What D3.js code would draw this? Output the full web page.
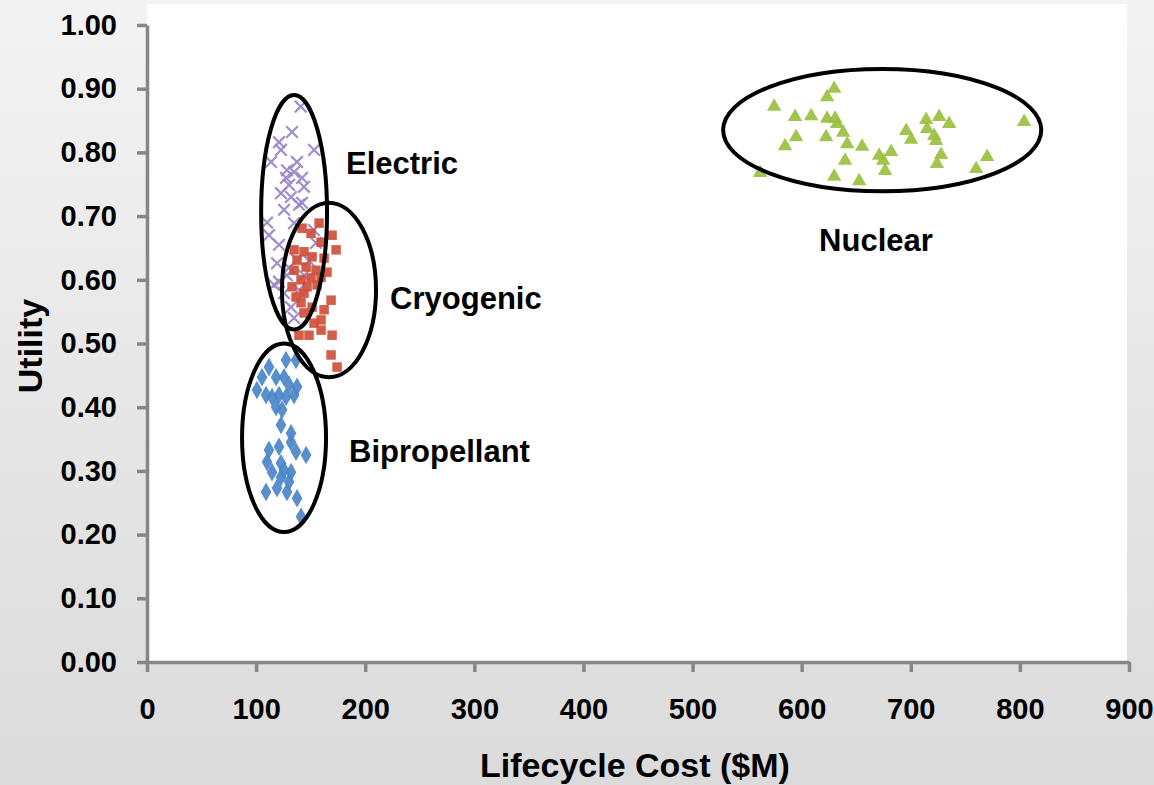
<!DOCTYPE html>
<html>
<head>
<meta charset="utf-8">
<script src="https://cdn.jsdelivr.net/npm/d3@7"></script>
<style>
  body { margin: 0; }
  #chart { width: 1154px; height: 785px; }
</style>
</head>
<body>
<div id="chart"></div>
<script>
// Lifecycle cost ($M) and utility for each propulsion family
const electricCost = [140.9, 132.9, 121.0, 122.8, 153.1, 113.7, 137.5, 128.3, 134.8, 127.4, 142.1, 130.2, 143.9, 122.8, 132.0, 139.3, 142.1, 134.8, 111.8, 121.0, 119.2, 121.0, 130.2, 137.5, 125.6, 132.0, 134.8, 154.9, 153.0, 125.6, 110.0, 148.5, 128.3, 116.4, 139.3, 143.9];
const electricUtility = [0.872, 0.832, 0.816, 0.804, 0.804, 0.785, 0.785, 0.772, 0.769, 0.760, 0.760, 0.749, 0.746, 0.736, 0.730, 0.718, 0.721, 0.689, 0.670, 0.655, 0.626, 0.597, 0.619, 0.631, 0.579, 0.557, 0.540, 0.658, 0.678, 0.710, 0.690, 0.630, 0.607, 0.592, 0.584, 0.607];

const cryoCost = [157.7, 142.1, 169.6, 150.3, 159.5, 134.8, 143.9, 173.3, 151.3, 137.5, 162.3, 145.8, 154.9, 134.8, 165.0, 141.2, 150.3, 159.5, 132.9, 146.7, 155.8, 136.6, 143.9, 168.7, 141.2, 151.3, 162.3, 143.9, 159.5, 153.1, 139.3, 148.5, 169.6, 159.5, 168.7, 174.2];
const cryoUtility = [0.689, 0.681, 0.670, 0.673, 0.659, 0.647, 0.644, 0.647, 0.636, 0.631, 0.634, 0.620, 0.615, 0.615, 0.612, 0.600, 0.603, 0.604, 0.589, 0.589, 0.592, 0.573, 0.579, 0.568, 0.564, 0.557, 0.553, 0.548, 0.537, 0.532, 0.513, 0.513, 0.513, 0.521, 0.482, 0.463];

const biproCost = [127.4, 136.6, 111.8, 105.4, 118.3, 125.6, 130.2, 137.5, 100.8, 109.1, 114.6, 121.0, 127.4, 134.8, 118.3, 123.8, 122.8, 132.0, 132.0, 111.8, 121.0, 136.6, 145.8, 110.0, 122.8, 125.6, 114.6, 132.0, 122.8, 130.2, 109.1, 119.2, 128.3, 137.5, 141.2];
const biproUtility = [0.474, 0.474, 0.463, 0.447, 0.447, 0.447, 0.435, 0.432, 0.427, 0.419, 0.416, 0.419, 0.416, 0.419, 0.400, 0.396, 0.372, 0.359, 0.345, 0.333, 0.338, 0.330, 0.325, 0.314, 0.312, 0.301, 0.298, 0.298, 0.290, 0.283, 0.267, 0.273, 0.267, 0.257, 0.228];

const nuclearCost = [629.8, 623.3, 574.8, 594.0, 608.7, 623.3, 630.7, 632.5, 638.0, 594.9, 622.4, 641.7, 584.8, 655.4, 671.0, 682.0, 674.7, 639.8, 629.8, 652.7, 676.5, 561.9, 695.8, 700.3, 714.1, 726.0, 735.2, 715.0, 721.4, 723.2, 727.8, 724.1, 759.9, 770.0, 803.9];
const nuclearUtility = [0.900, 0.887, 0.872, 0.856, 0.857, 0.853, 0.853, 0.845, 0.831, 0.824, 0.824, 0.813, 0.810, 0.809, 0.795, 0.801, 0.787, 0.787, 0.762, 0.755, 0.771, 0.768, 0.834, 0.820, 0.851, 0.856, 0.845, 0.837, 0.826, 0.818, 0.796, 0.782, 0.774, 0.793, 0.848];

// Circled groups: centre and half-widths in data units, label anchor
const groupNames = ['Electric', 'Cryogenic', 'Bipropellant', 'Nuclear'];
const groupCx = [134.8, 166.8, 125.6, 673.8];
const groupCy = [0.706, 0.584, 0.352, 0.835];
const groupRx = [30.2, 43.1, 38.5, 145.8];
const groupRy = [0.184, 0.137, 0.148, 0.096];
const labelX = [182.4, 222.8, 185.2, 616.0];
const labelY = [0.766, 0.554, 0.314, 0.645];

const xTicks = [0, 100, 200, 300, 400, 500, 600, 700, 800, 900];
const yTicks = [0, 0.1, 0.2, 0.3, 0.4, 0.5, 0.6, 0.7, 0.8, 0.9, 1.0];

// Size of the page
var svgWidth = 1154;
var svgHeight = 785;

var svg = d3.select('#chart')
    .append('svg')
    .attr('width', svgWidth)
    .attr('height', svgHeight)
    .style('font-family', 'Liberation Sans, Arial, sans-serif');

// Grey background fading downwards
var defs = svg.append('defs');
var grad = defs.append('linearGradient')
    .attr('id', 'bg')
    .attr('x1', 0).attr('y1', 0)
    .attr('x2', 0).attr('y2', 1);
grad.append('stop').attr('offset', '0%').attr('stop-color', '#f3f3f3');
grad.append('stop').attr('offset', '100%').attr('stop-color', '#dbdbdb');

svg.append('rect')
    .attr('width', svgWidth)
    .attr('height', svgHeight)
    .attr('fill', 'url(#bg)');

// Scales
var xScale = d3.scaleLinear()
    .domain([0, 900])
    .range([147, 1129]);

var yScale = d3.scaleLinear()
    .domain([0, 1])
    .range([662, 25]);

// White plot area
svg.append('rect')
    .attr('x', xScale(0))
    .attr('y', 4)
    .attr('width', xScale(900) - xScale(0) - 2)
    .attr('height', yScale(0) - 4)
    .attr('fill', '#ffffff');

// Axes
var xAxis = d3.axisBottom(xScale)
    .tickValues(xTicks)
    .tickFormat(d3.format('d'))
    .tickSize(10)
    .tickSizeOuter(0)
    .tickPadding(26);

var yAxis = d3.axisLeft(yScale)
    .tickValues(yTicks)
    .tickFormat(d3.format('.2f'))
    .tickSize(10)
    .tickSizeOuter(0)
    .tickPadding(20);

var gx = svg.append('g')
    .attr('transform', 'translate(0,' + yScale(0) + ')')
    .call(xAxis);

var gy = svg.append('g')
    .attr('transform', 'translate(' + xScale(0) + ',0)')
    .call(yAxis);

[gx, gy].forEach(g => {
    g.select('.domain').attr('stroke', '#868686').attr('stroke-width', 3.5);
    g.selectAll('.tick line').attr('stroke', '#868686').attr('stroke-width', 3.5);
    g.selectAll('.tick text')
        .attr('fill', '#000')
        .style('font-size', '29px')
        .style('font-weight', 'bold')
        .style('font-family', 'Liberation Sans, Arial, sans-serif');
});

// Markers
function drawSeries(costs, utils, symbolType, size, color, stroked) {
    var sym = d3.symbol().type(symbolType).size(size);
    svg.append('g')
        .selectAll('path')
        .data(costs.map((c, i) => ({ cost: c, util: utils[i] })))
        .join('path')
        .attr('d', sym)
        .attr('transform', d => 'translate(' + xScale(d.cost) + ',' + yScale(d.util) + ')')
        .attr('fill', stroked ? 'none' : color)
        .attr('stroke', stroked ? color : 'none')
        .attr('stroke-width', stroked ? 2.2 : 0)
        .attr('opacity', 0.92);
}

drawSeries(electricCost, electricUtility, d3.symbolX, 90, '#9a84c8', true);
drawSeries(biproCost, biproUtility, d3.symbolDiamond, 100, '#4a85c8', false);
drawSeries(cryoCost, cryoUtility, d3.symbolSquare, 90, '#cf4f3a', false);
drawSeries(nuclearCost, nuclearUtility, d3.symbolTriangle, 90, '#9ac040', false);

// Ellipses around each family
svg.append('g')
    .selectAll('ellipse')
    .data(groupNames)
    .join('ellipse')
    .attr('cx', (d, i) => xScale(groupCx[i]))
    .attr('cy', (d, i) => yScale(groupCy[i]))
    .attr('rx', (d, i) => xScale(groupRx[i]) - xScale(0))
    .attr('ry', (d, i) => yScale(0) - yScale(groupRy[i]))
    .attr('fill', 'none')
    .attr('stroke', '#000')
    .attr('stroke-width', 4);

// Family labels
svg.append('g')
    .selectAll('text')
    .data(groupNames)
    .join('text')
    .attr('x', (d, i) => xScale(labelX[i]))
    .attr('y', (d, i) => yScale(labelY[i]))
    .style('font-size', '31px')
    .style('font-weight', 'bold')
    .text(d => d);

// Axis titles
svg.append('text')
    .attr('x', 635)
    .attr('y', 777)
    .style('text-anchor', 'middle')
    .style('font-size', '34px')
    .style('font-weight', 'bold')
    .text('Lifecycle Cost ($M)');

svg.append('text')
    .attr('transform', 'rotate(-90)')
    .attr('x', -346)
    .attr('y', 42)
    .style('text-anchor', 'middle')
    .style('font-size', '34px')
    .style('font-weight', 'bold')
    .text('Utility');
</script>
</body>
</html>
